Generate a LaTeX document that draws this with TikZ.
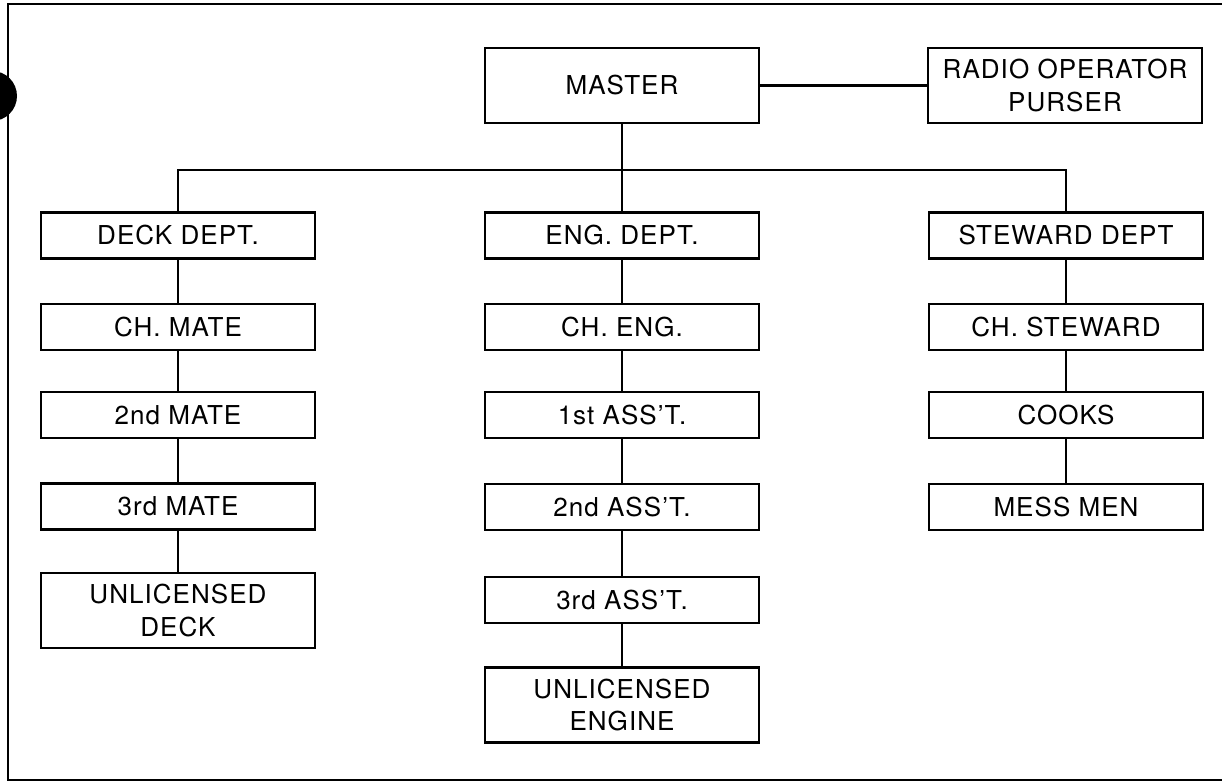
\documentclass[tikz,border=0pt]{standalone}
\usepackage{fontspec}
\setsansfont[LetterSpace=4]{TeX Gyre Heros}
\tikzset{
  box/.style={draw, rectangle, align=center, font=\sffamily\fontsize{18.5}{23}\selectfont, minimum width=6.85cm, minimum height=1.15cm, inner sep=2pt, line width=1.8pt},
  tallbox/.style={box, minimum height=1.875cm},
  link/.style={line width=2pt},
}
\begin{document}
\begin{tikzpicture}[x=0.025cm,y=-0.025cm]
\useasboundingbox (0,0) rectangle (1222,782);
\draw[line width=1.8pt] (1222,4) -- (8,4) -- (8,780) -- (1222,780);
\fill (-8,96) circle (25);
\node[tallbox] (master) at (622,85.5) {MASTER};
\node[tallbox] (radio) at (1065,85.5) {RADIO OPERATOR\\PURSER};
\node[box] (deck) at (178,235.5) {DECK DEPT.};
\node[box] (eng) at (622,235.5) {ENG. DEPT.};
\node[box] (steward) at (1066,235.5) {STEWARD DEPT};
\node[box] (chmate) at (178,327) {CH. MATE};
\node[box] (mate2) at (178,415) {2nd MATE};
\node[box] (mate3) at (178,506.5) {3rd MATE};
\node[tallbox] (udeck) at (178,610.5) {UNLICENSED\\DECK};
\node[box] (cheng) at (622,327) {CH. ENG.};
\node[box] (asst1) at (622,415) {1st ASS'T.};
\node[box] (asst2) at (622,507) {2nd ASS'T.};
\node[box] (asst3) at (622,600) {3rd ASS'T.};
\node[tallbox] (ueng) at (622,705) {UNLICENSED\\ENGINE};
\node[box] (chstew) at (1066,327) {CH. STEWARD};
\node[box] (cooks) at (1066,415) {COOKS};
\node[box] (mess) at (1066,507) {MESS MEN};
\coordinate (bus) at (622,170);
\draw[link] (master) -- (radio);
\draw[link] (master) -- (eng);
\draw[link] (deck.north) |- (bus) -| (steward.north);
\draw[link] (deck) -- (chmate);
\draw[link] (chmate) -- (mate2);
\draw[link] (mate2) -- (mate3);
\draw[link] (mate3) -- (udeck);
\draw[link] (eng) -- (cheng);
\draw[link] (cheng) -- (asst1);
\draw[link] (asst1) -- (asst2);
\draw[link] (asst2) -- (asst3);
\draw[link] (asst3) -- (ueng);
\draw[link] (steward) -- (chstew);
\draw[link] (chstew) -- (cooks);
\draw[link] (cooks) -- (mess);
\end{tikzpicture}
\end{document}
